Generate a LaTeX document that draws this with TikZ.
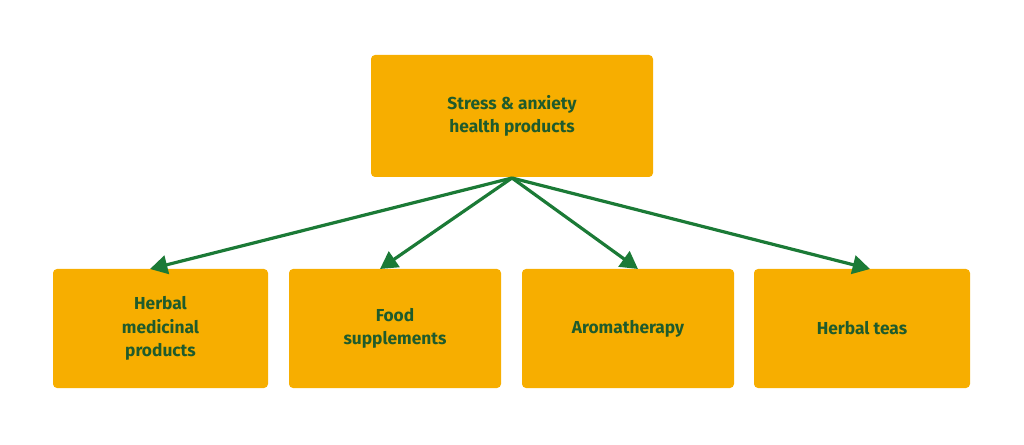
\documentclass[tikz,border=0pt]{standalone}
\usepackage{fontspec}
\setmainfont{Fira Sans}
\usetikzlibrary{arrows.meta}
\definecolor{boxc}{HTML}{F7AE00}
\definecolor{txtc}{HTML}{1F5B2C}
\definecolor{arrc}{HTML}{1B7A36}
\tikzset{
  box/.style={fill=boxc,rounded corners=3pt,inner sep=0pt,align=center,
    font=\fontsize{13}{17.5}\selectfont\bfseries,text=txtc},
  conn/.style={draw=arrc,line width=2.4pt,-{Triangle[length=13pt,width=14pt]}}
}
\begin{document}
\begin{tikzpicture}[x=0.75pt,y=-0.75pt]
\useasboundingbox (0,0) rectangle (1024,445);
\node[box,minimum width=282*0.75pt,minimum height=122*0.75pt] (top) at (512,116) {Stress \& anxiety\\health products};
\node[box,minimum width=215*0.75pt,minimum height=119*0.75pt] (b1) at (160.5,328.5) {Herbal\\medicinal\\products};
\node[box,minimum width=212*0.75pt,minimum height=119*0.75pt] (b2) at (395,328.5) {Food\\supplements};
\node[box,minimum width=212*0.75pt,minimum height=119*0.75pt] (b3) at (628,328.5) {Aromatherapy};
\node[box,minimum width=216*0.75pt,minimum height=119*0.75pt] (b4) at (862,328.5) {Herbal teas};
\coordinate (s) at (512,178);
\coordinate (e1) at (150,269);
\coordinate (e2) at (380,269);
\coordinate (e3) at (638,269);
\coordinate (e4) at (870,269);
\draw[conn] (s) -- (e1);
\draw[conn] (s) -- (e2);
\draw[conn] (s) -- (e3);
\draw[conn] (s) -- (e4);
\end{tikzpicture}
\end{document}
